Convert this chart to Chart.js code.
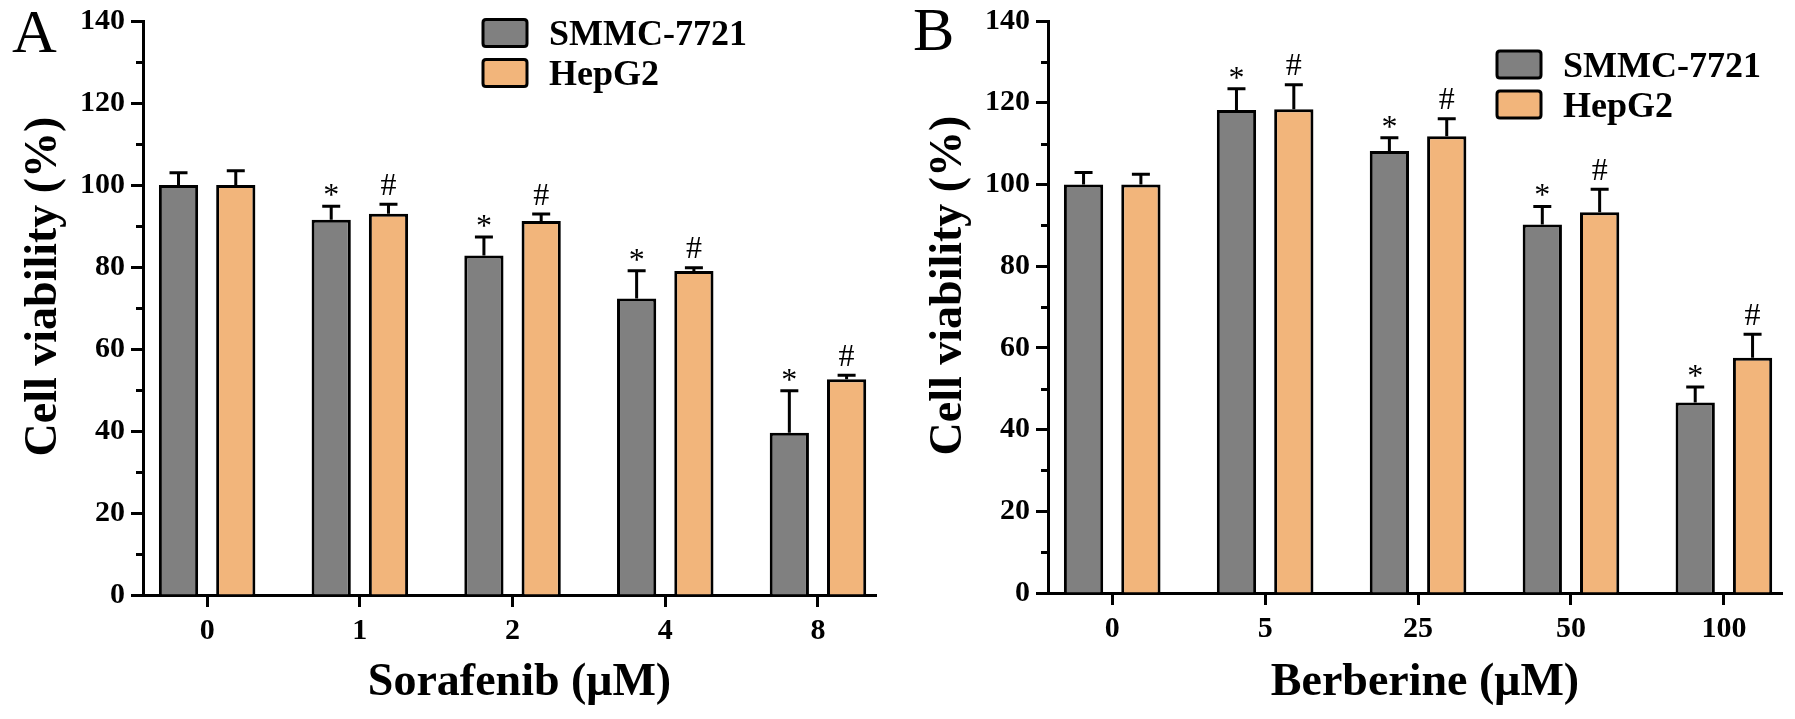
<!DOCTYPE html>
<html><head><meta charset="utf-8">
<script src="https://cdn.jsdelivr.net/npm/chart.js@4/dist/chart.umd.min.js"></script>
<style>
html,body{margin:0;padding:0;background:#fff;}
#wrap{position:relative;width:1795px;height:719px;overflow:hidden;background:#fff;}
.panel{position:absolute;top:0;height:719px;}
</style></head><body>
<div id="wrap">
<div class="panel" style="left:0;width:897px"><canvas id="cA" width="897" height="719"></canvas></div>
<div class="panel" style="left:897px;width:898px"><canvas id="cB" width="898" height="719"></canvas></div>
</div>
<script>
// ---- data ----
const seriesNames = ['SMMC-7721', 'HepG2'];
const catsA = ['0', '1', '2', '4', '8'];
const smmcA = [100, 91.5, 82.8, 72.3, 39.6];
const smmcErrA = [3.0, 3.3, 4.5, 6.8, 10.2];
const hepA = [100, 93.0, 91.2, 79.0, 52.6];
const hepErrA = [3.5, 2.3, 1.7, 0.8, 1.0];
const catsB = ['0', '5', '25', '50', '100'];
const smmcB = [100, 118.2, 108.2, 90.2, 46.6];
const smmcErrB = [2.9, 5.2, 3.2, 4.4, 3.8];
const hepB = [100, 118.4, 111.8, 93.2, 57.6];
const hepErrB = [2.5, 6.0, 4.3, 5.6, 5.7];
const smmcMarks = ['', '*', '*', '*', '*'];
const hepMarks = ['', '#', '#', '#', '#'];
const yMajorTicks = [0, 20, 40, 60, 80, 100, 120, 140];
const yMinorTicks = [10, 30, 50, 70, 90, 110, 130];
const yTitle = 'Cell viability (%)';
const xTitleA = 'Sorafenib (μM)';
const xTitleB = 'Berberine (μM)';

const FONT = '"Liberation Serif", "Times New Roman", Times, serif';
const GRAY = '#808080';
const ORANGE = '#F2B57B';

function makeDataset(label, vals, errs, marks, color) {
  return {
    label: label,
    data: vals.map((v, i) => ({x: i, y: v})),
    errors: errs,
    marks: marks,
    backgroundColor: color,
    borderColor: '#000',
    borderWidth: 3,
    categoryPercentage: 0.75,
    barPercentage: 0.685
  };
}

function roundRect(ctx, x, y, w, h, r) {
  ctx.beginPath();
  ctx.moveTo(x + r, y);
  ctx.lineTo(x + w - r, y);
  ctx.quadraticCurveTo(x + w, y, x + w, y + r);
  ctx.lineTo(x + w, y + h - r);
  ctx.quadraticCurveTo(x + w, y + h, x + w - r, y + h);
  ctx.lineTo(x + r, y + h);
  ctx.quadraticCurveTo(x, y + h, x, y + h - r);
  ctx.lineTo(x, y + r);
  ctx.quadraticCurveTo(x, y, x + r, y);
  ctx.closePath();
}

const decor = {
  id: 'panelDecor',
  afterDatasetsDraw(chart, args, o) {
    const ctx = chart.ctx, ys = chart.scales.y;
    chart.data.datasets.forEach((ds, i) => {
      const meta = chart.getDatasetMeta(i);
      meta.data.forEach((el, j) => {
        const v = ds.data[j].y, e = ds.errors[j];
        const yt = ys.getPixelForValue(v + e);
        ctx.save();
        ctx.strokeStyle = '#000';
        ctx.lineWidth = 3;
        ctx.beginPath();
        ctx.moveTo(el.x, el.y);
        ctx.lineTo(el.x, yt);
        ctx.moveTo(el.x - 9, yt);
        ctx.lineTo(el.x + 9, yt);
        ctx.stroke();
        const m = ds.marks[j];
        if (m) {
          ctx.font = '32px ' + FONT;
          ctx.fillStyle = '#000';
          ctx.textAlign = 'center';
          ctx.textBaseline = 'alphabetic';
          const mt = ctx.measureText(m);
          const off = m === '*' ? 16 : 20;
          const cy = yt - off;
          const base = cy + (mt.actualBoundingBoxAscent - mt.actualBoundingBoxDescent) / 2;
          ctx.fillText(m, el.x, base);
        }
        ctx.restore();
      });
    });
  },
  afterDraw(chart, args, o) {
    const ctx = chart.ctx, ys = chart.scales.y, a = chart.chartArea;
    ctx.save();
    // minor y ticks
    ctx.strokeStyle = '#000';
    ctx.lineWidth = 3;
    yMinorTicks.forEach(v => {
      const py = Math.round(ys.getPixelForValue(v)) + 0.5;
      ctx.beginPath();
      ctx.moveTo(a.left - 7, py);
      ctx.lineTo(a.left, py);
      ctx.stroke();
    });
    // y title
    ctx.fillStyle = '#000';
    ctx.font = 'bold 46px ' + FONT;
    ctx.textAlign = 'center';
    ctx.textBaseline = 'alphabetic';
    ctx.save();
    ctx.translate(a.left - 87.5, (a.top + a.bottom) / 2 - 21.5);
    ctx.rotate(-Math.PI / 2);
    ctx.fillText(o.yTitle, 0, 0);
    ctx.restore();
    // x title
    ctx.fillText(o.xTitle, (a.left + a.right) / 2 + 10, 695);
    // panel letter
    ctx.font = '62px ' + FONT;
    ctx.textAlign = 'left';
    ctx.fillText(o.letter, o.letterX, o.letterY);
    // legend
    chart.data.datasets.forEach((ds, k) => {
      const bx = a.left + o.legendDx;
      const cy = a.top + o.legendDy + k * 40;
      roundRect(ctx, bx, cy - 13.5, 44, 27, 3);
      ctx.fillStyle = ds.backgroundColor;
      ctx.fill();
      ctx.lineWidth = 3;
      ctx.strokeStyle = '#000';
      ctx.stroke();
      ctx.fillStyle = '#000';
      ctx.font = 'bold 36px ' + FONT;
      ctx.textAlign = 'left';
      ctx.fillText(ds.label, bx + 66, cy + 12);
    });
    ctx.restore();
  }
};

function makeChart(id, cats, s1, e1, s2, e2, opt) {
  const tickFont = {family: FONT, weight: 'bold', size: 30, lineHeight: 1};
  return new Chart(document.getElementById(id), {
    type: 'bar',
    data: {
      datasets: [
        makeDataset(seriesNames[0], s1, e1, smmcMarks, GRAY),
        makeDataset(seriesNames[1], s2, e2, hepMarks, ORANGE)
      ]
    },
    options: {
      responsive: false,
      animation: false,
      devicePixelRatio: 1,
      layout: {padding: {top: opt.padTop, right: opt.padRight, left: 0, bottom: 0}},
      plugins: {
        legend: {display: false},
        tooltip: {enabled: false},
        panelDecor: opt.decor
      },
      scales: {
        x: {
          type: 'linear',
          min: -0.42,
          max: cats.length - 1 + 0.38,
          offset: false,
          afterBuildTicks: s => { s.ticks = cats.map((c, i) => ({value: i})); },
          afterFit: s => { s.height = opt.xHeight; },
          ticks: {
            callback: v => cats[v] !== undefined ? cats[v] : '',
            font: tickFont, color: '#000', padding: 9, autoSkip: false, maxRotation: 0
          },
          grid: {display: true, offset: false, drawOnChartArea: false, drawTicks: true, tickLength: 12, tickWidth: 3, tickColor: '#000'},
          border: {display: true, color: '#000', width: 3}
        },
        y: {
          min: 0, max: 140,
          afterBuildTicks: s => { s.ticks = yMajorTicks.map(v => ({value: v})); },
          afterFit: s => { s.width = opt.yWidth; },
          ticks: {font: tickFont, color: '#000', padding: 6},
          grid: {display: true, drawOnChartArea: false, drawTicks: true, tickLength: 12, tickWidth: 3, tickColor: '#000'},
          border: {display: true, color: '#000', width: 3}
        }
      }
    },
    plugins: [decor]
  });
}

makeChart('cA', catsA, smmcA, smmcErrA, hepA, hepErrA, {
  padTop: 19, padRight: 21, xHeight: 124, yWidth: 143,
  decor: {letter: 'A', letterX: 12, letterY: 52, legendDx: 340, legendDy: 12, xTitle: xTitleA, yTitle: yTitle}
});
makeChart('cB', catsB, smmcB, smmcErrB, hepB, hepErrB, {
  padTop: 17, padRight: 13, xHeight: 126, yWidth: 151,
  decor: {letter: 'B', letterX: 16, letterY: 50, legendDx: 449, legendDy: 43.5, xTitle: xTitleB, yTitle: yTitle}
});
</script>
</body></html>
